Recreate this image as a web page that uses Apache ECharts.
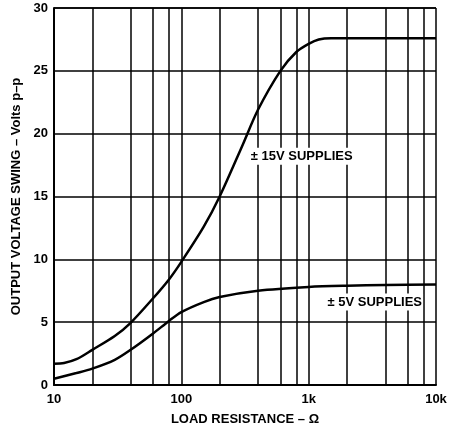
<!DOCTYPE html>
<html><head><meta charset="utf-8">
<script src="https://cdn.jsdelivr.net/npm/echarts@6/dist/echarts.min.js"></script>
<style>html,body{margin:0;padding:0;background:#fff}#c{width:455px;height:431px}</style>
</head><body><div id="c"></div>
<script>
const xTickLabels = {10:'10',100:'100',1000:'1k',10000:'10k'};
const gridX = [20,40,60,80,100,200,400,600,800,1000,2000,4000,6000,8000];
const supply15 = [[10,1.7],[12,1.75],[15,2.05],[20,2.8],[30,3.9],[40,4.95],[60,6.9],[80,8.4],[100,9.8],[150,12.6],[200,15],[300,19],[400,21.9],[600,25],[800,26.5],[1000,27.15],[1200,27.5],[1500,27.6],[2000,27.6],[4000,27.6],[10000,27.6]];
const supply5 = [[10,0.5],[15,0.95],[20,1.3],[30,2.0],[40,2.8],[60,4.1],[80,5.1],[100,5.8],[150,6.6],[200,7.0],[400,7.5],[1000,7.8],[2000,7.9],[4000,7.95],[10000,8.0]];
const label15 = {text:'± 15V SUPPLIES', x:345, y:18.2};
const label5 = {text:'± 5V SUPPLIES', x:1380, y:6.6};

const chart = echarts.init(document.getElementById('c'));
const ff = 'Liberation Sans, Arial, sans-serif';
chart.setOption({
  animation:false,
  backgroundColor:'#fff',
  grid:{left:54,right:19,top:8,bottom:41},
  xAxis:{type:'log',logBase:10,min:10,max:10000,
    name:'LOAD RESISTANCE – Ω',nameLocation:'middle',nameGap:28,
    nameTextStyle:{color:'#000',fontWeight:'bold',fontSize:13,fontFamily:ff},
    axisLine:{show:true,lineStyle:{color:'#000',width:2}},
    axisTick:{show:false},
    axisLabel:{color:'#000',fontWeight:'bold',fontSize:13,fontFamily:ff,margin:8,
      formatter:v=>xTickLabels[Math.round(v)]||''},
    splitLine:{show:false}},
  yAxis:{type:'value',min:0,max:30,interval:5,
    name:'OUTPUT VOLTAGE SWING – Volts p–p',nameLocation:'middle',nameGap:31,nameRotate:90,
    nameTextStyle:{color:'#000',fontWeight:'bold',fontSize:13,fontFamily:ff},
    axisLine:{show:true,lineStyle:{color:'#000',width:2}},
    axisTick:{show:false},
    axisLabel:{color:'#000',fontWeight:'bold',fontSize:13,fontFamily:ff,margin:6},
    splitLine:{show:true,lineStyle:{color:'#000',width:1.5}}},
  series:[
    {type:'line',data:[],silent:true,
      markLine:{silent:true,symbol:'none',label:{show:false},
        lineStyle:{color:'#000',width:1.5,type:'solid'},
        data:gridX.map(v=>({xAxis:v})).concat([{yAxis:30},{xAxis:10000}])}},
    {type:'line',data:supply15,smooth:0.3,symbol:'none',lineStyle:{color:'#000',width:2.5},
      markPoint:{symbol:'circle',symbolSize:0,data:[{coord:[label15.x,label15.y]}],
        label:{show:true,formatter:label15.text,position:'right',distance:0,color:'#000',fontWeight:'bold',fontSize:13,fontFamily:ff,backgroundColor:'#fff',padding:[2,1]}}},
    {type:'line',data:supply5,smooth:0.3,symbol:'none',lineStyle:{color:'#000',width:2.5},
      markPoint:{symbol:'circle',symbolSize:0,data:[{coord:[label5.x,label5.y]}],
        label:{show:true,formatter:label5.text,position:'right',distance:0,color:'#000',fontWeight:'bold',fontSize:13,fontFamily:ff,backgroundColor:'#fff',padding:[2,1]}}}
  ]
});
</script></body></html>
